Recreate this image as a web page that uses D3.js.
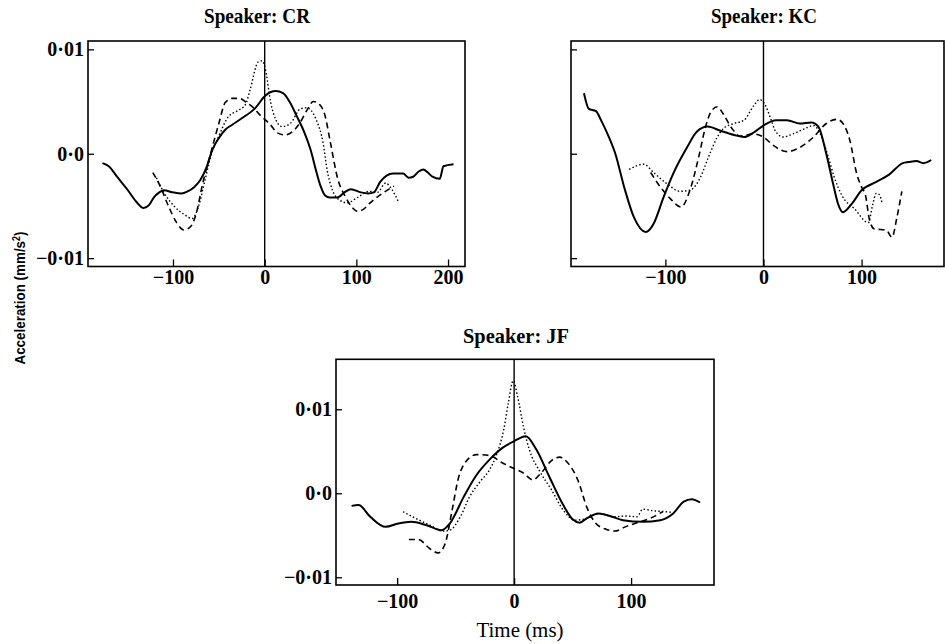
<!DOCTYPE html>
<html>
<head>
<meta charset="utf-8">
<script src="https://cdn.jsdelivr.net/npm/d3@7"></script>
<style>
  body { margin: 0; background: #fff; }
  svg { display: block; }
  .tick text { font-family: "Liberation Serif", "Times New Roman", serif; font-weight: bold; font-size: 20px; fill: #000; }
  .title { font-family: "Liberation Serif", "Times New Roman", serif; font-weight: bold; font-size: 21px; }
</style>
</head>
<body>
<svg id="chart" width="945" height="644"></svg>
<script>
// Data: [time (ms), acceleration (mm/s2)]
const crSolid = [[-177,-0.0009],[-170,-0.0012],[-161,-0.0022],[-150,-0.0034],[-140,-0.0046],[-132,-0.0052],[-126,-0.0049],[-121,-0.0042],[-115,-0.0037],[-110,-0.0035],[-100,-0.0037],[-91,-0.0038],[-84,-0.0036],[-77,-0.0032],[-70,-0.0025],[-63,-0.0012],[-57,0.0004],[-50,0.0015],[-43,0.0023],[-35,0.0028],[-25,0.0034],[-10,0.0044],[0,0.0055],[12,0.0060],[20,0.0058],[27,0.0050],[35,0.0036],[43,0.0021],[50,0.0004],[56,-0.0016],[61,-0.0031],[66,-0.0040],[71,-0.0042],[79,-0.0042],[87,-0.0037],[94,-0.0034],[105,-0.0037],[113,-0.0038],[119,-0.0037],[126,-0.0027],[133,-0.0021],[140,-0.0019],[151,-0.0019],[157,-0.0023],[162,-0.0022],[168,-0.0017],[173,-0.0015],[178,-0.0018],[183,-0.0022],[191,-0.0024],[195,-0.0012],[206,-0.0010]];
const crDash = [[-122,-0.0018],[-114,-0.0031],[-105,-0.0050],[-96,-0.0066],[-88,-0.0073],[-80,-0.0069],[-74,-0.0055],[-68,-0.0030],[-59,0.0000],[-50,0.0029],[-43,0.0049],[-35,0.0053],[-27,0.0053],[-20,0.0049],[-12,0.0044],[-5,0.0037],[0,0.0033],[6,0.0028],[14,0.0020],[22,0.0018],[30,0.0021],[38,0.0029],[47,0.0043],[53,0.0050],[60,0.0047],[66,0.0036],[71,0.0014],[80,-0.0025],[88,-0.0041],[95,-0.0051],[101,-0.0055],[108,-0.0053],[115,-0.0047],[122,-0.0042],[130,-0.0037],[141,-0.0031]];
const crDot = [[-118,-0.0023],[-110,-0.0037],[-99,-0.0050],[-88,-0.0058],[-79,-0.0062],[-72,-0.0050],[-65,-0.0025],[-58,0.0000],[-50,0.0017],[-40,0.0035],[-30,0.0041],[-21,0.0047],[-16,0.0061],[-7,0.0088],[-2.5,0.0089],[1,0.0080],[6.6,0.0049],[12,0.0033],[19,0.0026],[28,0.0029],[39,0.0043],[46,0.0044],[56,0.0033],[64,0.0009],[68,-0.0015],[74,-0.0035],[81,-0.0044],[90,-0.0047],[101,-0.0042],[114,-0.0036],[123,-0.0037],[132,-0.0028],[137,-0.0032],[146,-0.0046]];

const kcSolid = [[-183,0.0058],[-178,0.0043],[-171,0.0041],[-165,0.0031],[-159,0.0019],[-151,0.0000],[-142,-0.0032],[-132,-0.0061],[-120,-0.0075],[-112,-0.0067],[-102,-0.0042],[-92,-0.0019],[-78,0.0006],[-68,0.0021],[-57,0.0026],[-44,0.0022],[-30,0.0018],[-20,0.0016],[-9,0.0021],[0,0.0027],[13,0.0032],[24,0.0032],[37,0.0029],[49,0.0030],[56,0.0026],[64,0.0000],[71,-0.0029],[76,-0.0048],[81,-0.0056],[90,-0.0048],[100,-0.0035],[115,-0.0027],[128,-0.0020],[142,-0.0009],[148,-0.0008],[156,-0.0007],[163,-0.0009],[171,-0.0006]];
const kcDash = [[-115,-0.0018],[-105,-0.0032],[-95,-0.0043],[-84,-0.0051],[-75,-0.0035],[-66,-0.0003],[-59,0.0026],[-53,0.0041],[-47,0.0045],[-41,0.0038],[-32,0.0024],[-24,0.0017],[-10,0.0019],[0,0.0016],[10,0.0008],[24,0.0002],[37,0.0006],[51,0.0016],[64,0.0029],[75,0.0033],[83,0.0026],[88,0.0013],[95,-0.0019],[100,-0.0032],[104,-0.0040],[108,-0.0063],[113,-0.0072],[125,-0.0073],[131,-0.0080],[136,-0.0061],[141,-0.0036]];
const kcDot = [[-137,-0.0015],[-122,-0.0010],[-112,-0.0018],[-98,-0.0029],[-85,-0.0036],[-75,-0.0035],[-64,-0.0022],[-56,-0.0003],[-47,0.0016],[-41,0.0024],[-30,0.0029],[-20,0.0032],[-10,0.0046],[-4,0.0052],[1,0.0048],[8,0.0032],[12,0.0022],[20,0.0016],[30,0.0019],[42,0.0024],[51,0.0027],[58,0.0019],[66,-0.0003],[72,-0.0022],[80,-0.0040],[93,-0.0053],[107,-0.0066],[111,-0.0050],[115,-0.0038],[118,-0.0039],[121,-0.0048]];

const jfSolid = [[-139,-0.0015],[-133,-0.0014],[-123,-0.0028],[-110,-0.0040],[-99,-0.0036],[-88,-0.0034],[-75,-0.0038],[-62,-0.0044],[-55,-0.0036],[-43,-0.0004],[-32,0.0022],[-21,0.0040],[-10,0.0054],[0,0.0062],[10,0.0068],[19,0.0052],[30,0.0020],[42,-0.0014],[50,-0.0031],[56,-0.0035],[62,-0.0030],[72,-0.0024],[82,-0.0027],[93,-0.0032],[110,-0.0034],[125,-0.0032],[136,-0.0024],[145,-0.0010],[152,-0.0007],[159,-0.0011]];
const jfDash = [[-90,-0.0055],[-82,-0.0055],[-72,-0.0066],[-65,-0.0071],[-59,-0.0060],[-53,-0.0020],[-48,0.0016],[-41,0.0038],[-32,0.0046],[-21,0.0045],[-11,0.0037],[-1,0.0030],[8,0.0024],[16,0.0016],[23,0.0024],[32,0.0039],[39,0.0043],[46,0.0036],[55,0.0014],[62,-0.0016],[70,-0.0036],[79,-0.0043],[86,-0.0045],[95,-0.0040],[105,-0.0035],[116,-0.0030],[127,-0.0022]];
const jfDot = [[-95,-0.0022],[-84,-0.0030],[-72,-0.0038],[-61,-0.0045],[-55,-0.0044],[-46,-0.0028],[-38,-0.0004],[-29,0.0014],[-21,0.0028],[-15,0.0046],[-9,0.0075],[-5,0.0107],[-0.8,0.0134],[3,0.0115],[8,0.0079],[13,0.0052],[22,0.0026],[32,0.0004],[42,-0.0020],[52,-0.0032],[62,-0.0030],[73,-0.0024],[85,-0.0028],[96,-0.0027],[105,-0.0028],[110,-0.0019],[120,-0.0021],[130,-0.0022],[136,-0.0023]];

const yTicks = [-0.01, 0, 0.01];
const xTicksCR = [-100, 0, 100, 200];
const xTicksKC = [-100, 0, 100];
const xTicksJF = [-100, 0, 100];

// panel layout
const panels = [
  { title: "Speaker: CR", series: [crSolid, crDash, crDot], xTicks: xTicksCR, yLabels: true,
    left: 88, right: 465, top: 41, bottom: 266.5, xDom: [-192.7, 218.5], yDom: [-0.0108, 0.0108],
    titleX: 257, titleY: 23, xPad: 3.5 },
  { title: "Speaker: KC", series: [kcSolid, kcDash, kcDot], xTicks: xTicksKC, yLabels: false,
    left: 571, right: 944, top: 41, bottom: 266.5, xDom: [-196.2, 184], yDom: [-0.0108, 0.0108],
    titleX: 764, titleY: 23, xPad: 3.5 },
  { title: "Speaker: JF", series: [jfSolid, jfDash, jfDot], xTicks: xTicksJF, yLabels: true,
    left: 336, right: 714, top: 359.3, bottom: 585, xDom: [-152.3, 170.9], yDom: [-0.01092, 0.01595],
    titleX: 516, titleY: 343, xPad: 8.5 }
];

const styles = [
  { width: 2, dash: null },
  { width: 1.6, dash: "6,4" },
  { width: 1.4, dash: "1.5,2.2" }
];

const svg = d3.select("#chart");

const yFmt = d => d === 0 ? "0·0" : d3.format(".2f")(d).replace(".", "·").replace("-", "−");
const xFmt = d => d < 0 ? "−" + (-d) : String(d);

panels.forEach(function(p) {
  const x = d3.scaleLinear().domain(p.xDom).range([p.left, p.right]);
  const y = d3.scaleLinear().domain(p.yDom).range([p.bottom, p.top]);
  const g = svg.append("g");

  // title
  g.append("text")
    .attr("class", "title")
    .attr("x", p.titleX)
    .attr("y", p.titleY)
    .attr("text-anchor", "middle")
    .attr("textLength", 106)
    .attr("lengthAdjust", "spacingAndGlyphs")
    .text(p.title);

  // axes with inward ticks
  g.append("g")
    .attr("transform", "translate(" + p.left + ",0)")
    .call(d3.axisLeft(y).tickValues(yTicks).tickSize(-6).tickPadding(4)
      .tickFormat(p.yLabels ? yFmt : ""))
    .call(a => a.select(".domain").remove())
    .call(a => a.selectAll("line").attr("stroke-width", 1.3));

  g.append("g")
    .attr("transform", "translate(0," + p.bottom + ")")
    .call(d3.axisBottom(x).tickValues(p.xTicks).tickSize(-7).tickPadding(p.xPad)
      .tickFormat(xFmt))
    .call(a => a.select(".domain").remove())
    .call(a => a.selectAll("line").attr("stroke-width", 1.3));

  // frame
  g.append("rect")
    .attr("x", p.left).attr("y", p.top)
    .attr("width", p.right - p.left).attr("height", p.bottom - p.top)
    .attr("fill", "none").attr("stroke", "#000").attr("stroke-width", 1.6);

  // vertical line at time zero
  g.append("line")
    .attr("x1", x(0)).attr("x2", x(0))
    .attr("y1", p.top).attr("y2", p.bottom)
    .attr("stroke", "#000").attr("stroke-width", 1.4);

  const line = d3.line()
    .x(d => x(d[0]))
    .y(d => y(d[1]))
    .curve(d3.curveMonotoneX);

  g.selectAll("path.curve")
    .data(p.series)
    .enter()
    .append("path")
      .attr("class", "curve")
      .attr("d", line)
      .attr("fill", "none")
      .attr("stroke", "#000")
      .attr("stroke-width", (d, i) => styles[i].width)
      .attr("stroke-dasharray", (d, i) => styles[i].dash)
      .attr("stroke-linejoin", "round");
});

// shared axis titles
svg.append("text")
  .attr("transform", "translate(25,298) rotate(-90)")
  .attr("text-anchor", "middle")
  .attr("textLength", 133)
  .attr("lengthAdjust", "spacingAndGlyphs")
  .style("font-family", "'Liberation Sans', Arial, sans-serif")
  .style("font-weight", "bold")
  .style("font-size", "15px")
  .html("Acceleration (mm/s<tspan dy='-5' font-size='10px'>2</tspan><tspan dy='5'>)</tspan>");

svg.append("text")
  .attr("x", 520)
  .attr("y", 637)
  .attr("text-anchor", "middle")
  .attr("textLength", 87)
  .attr("lengthAdjust", "spacingAndGlyphs")
  .style("font-family", "'Liberation Serif', 'Times New Roman', serif")
  .style("font-size", "21px")
  .text("Time (ms)");
</script>
</body>
</html>
